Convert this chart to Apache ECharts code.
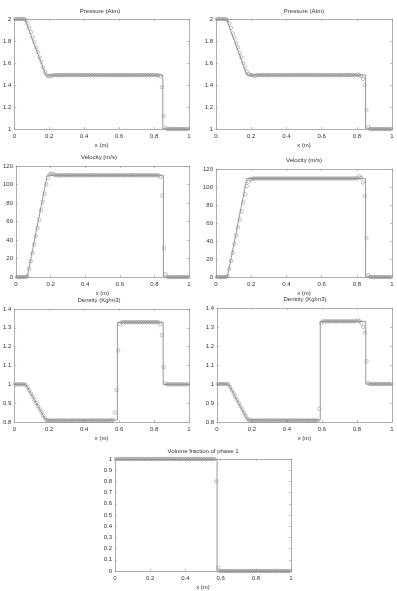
<!DOCTYPE html>
<html><head><meta charset="utf-8">
<script src="https://cdn.jsdelivr.net/npm/echarts@6/dist/echarts.min.js"></script>
<style>html,body{margin:0;padding:0;background:#fff}#c{width:397px;height:591px}</style>
</head><body><div id="c"></div>
<script>
const xCells = [
0.005,0.015,0.025,0.035,0.045,0.055,0.065,0.075,0.085,0.095,
0.105,0.115,0.125,0.135,0.145,0.155,0.165,0.175,0.185,0.195,
0.205,0.215,0.225,0.235,0.245,0.255,0.265,0.275,0.285,0.295,
0.305,0.315,0.325,0.335,0.345,0.355,0.365,0.375,0.385,0.395,
0.405,0.415,0.425,0.435,0.445,0.455,0.465,0.475,0.485,0.495,
0.505,0.515,0.525,0.535,0.545,0.555,0.565,0.575,0.585,0.595,
0.605,0.615,0.625,0.635,0.645,0.655,0.665,0.675,0.685,0.695,
0.705,0.715,0.725,0.735,0.745,0.755,0.765,0.775,0.785,0.795,
0.805,0.815,0.825,0.835,0.845,0.855,0.865,0.875,0.885,0.895,
0.905,0.915,0.925,0.935,0.945,0.955,0.965,0.975,0.985,0.995];
const xTicks = [0, 0.2, 0.4, 0.6, 0.8, 1];

// Pressure (Atm), left panel
const pressureLeft = [
2,2,2,2,2,2,1.99,1.96,1.92,1.88,
1.83,1.79,1.74,1.70,1.65,1.61,1.56,1.52,1.49,1.48,
1.48,1.485,1.49,1.49,1.49,1.49,1.49,1.49,1.49,1.49,
1.49,1.49,1.49,1.49,1.49,1.49,1.49,1.49,1.49,1.49,
1.49,1.49,1.49,1.49,1.49,1.49,1.49,1.49,1.49,1.49,
1.49,1.49,1.49,1.49,1.49,1.49,1.49,1.49,1.49,1.49,
1.49,1.49,1.49,1.49,1.49,1.49,1.49,1.49,1.49,1.49,
1.49,1.49,1.49,1.49,1.49,1.49,1.49,1.49,1.49,1.49,
1.49,1.49,1.49,1.48,1.38,1.12,1.01,1,1,1,
1,1,1,1,1,1,1,1,1,1];
const pressureLeftExactX = [0, 0.06, 0.18, 0.85, 0.85, 1];
const pressureLeftExactY = [2, 2, 1.49, 1.49, 1, 1];

// Pressure (Atm), right panel
const pressureRight = [
2,2,2,2,2,2,1.99,1.96,1.92,1.87,
1.83,1.78,1.74,1.69,1.65,1.60,1.56,1.52,1.50,1.49,
1.49,1.485,1.485,1.49,1.49,1.49,1.49,1.49,1.49,1.49,
1.49,1.49,1.49,1.49,1.49,1.49,1.49,1.49,1.49,1.49,
1.49,1.49,1.49,1.49,1.49,1.49,1.49,1.49,1.49,1.49,
1.49,1.49,1.49,1.49,1.49,1.49,1.49,1.49,1.49,1.49,
1.49,1.49,1.49,1.49,1.49,1.49,1.49,1.49,1.49,1.49,
1.49,1.49,1.49,1.49,1.49,1.49,1.49,1.49,1.49,1.49,
1.495,1.49,1.48,1.455,1.40,1.17,1.02,1,1,1,
1,1,1,1,1,1,1,1,1,1];
const pressureRightExactX = [0, 0.06, 0.175, 0.85, 0.85, 1];
const pressureRightExactY = [2, 2, 1.49, 1.49, 1, 1];

// Velocity (m/s), left panel
const velocityLeft = [
0,0,0,0,0,0,1,9,17,26,
35,44,53,62,72,81,90,100,107,111,
112,111,110.5,110,110,110,110,110,110,110,
110,110,110,110,110,110,110,110,110,110,
110,110,110,110,110,110,110,110,110,110,
110,110,110,110,110,110,110,110,110,110,
110,110,110,110,110,110,110,110,110,110,
110,110,110,110,110,110,110,110,110,110,
110,110,110,108,88,31,3,0,0,0,
0,0,0,0,0,0,0,0,0,0];
const velocityLeftExactX = [0, 0.065, 0.18, 0.852, 0.852, 1];
const velocityLeftExactY = [0, 0, 110, 110, 0, 0];

// Velocity (m/s), right panel
const velocityRight = [
0,0,0,0,0,0,1,9,18,27,
37,46,55,64,73,83,92,101,106,108.5,
109,109.5,109.5,109.5,109.5,109.5,109.5,109.5,109.5,109.5,
109.5,109.5,109.5,109.5,109.5,109.5,109.5,109.5,109.5,109.5,
109.5,109.5,109.5,109.5,109.5,109.5,109.5,109.5,109.5,109.5,
109.5,109.5,109.5,109.5,109.5,109.5,109.5,109.5,109.5,109.5,
109.5,109.5,109.5,109.5,109.5,109.5,109.5,109.5,109.5,109.5,
109.5,109.5,109.5,109.5,109.5,109.5,109.5,109.5,109.5,109.5,
110,112,110,105,90,43,2,0,0,0,
0,0,0,0,0,0,0,0,0,0];
const velocityRightExactX = [0, 0.065, 0.175, 0.85, 0.85, 1];
const velocityRightExactY = [0, 0, 109.5, 109.5, 0, 0];

// Density (Kg/m3), left panel
const densityLeft = [
1,1,1,1,1,1,0.998,0.985,0.968,0.951,
0.935,0.918,0.901,0.885,0.868,0.851,0.835,0.82,0.81,0.807,
0.808,0.808,0.808,0.808,0.808,0.808,0.808,0.808,0.808,0.808,
0.808,0.808,0.808,0.808,0.808,0.808,0.808,0.808,0.808,0.808,
0.808,0.808,0.808,0.808,0.808,0.808,0.808,0.808,0.808,0.808,
0.808,0.808,0.808,0.808,0.808,0.808,0.812,0.85,0.97,1.18,
1.32,1.33,1.33,1.33,1.33,1.33,1.33,1.33,1.33,1.33,
1.33,1.33,1.33,1.33,1.33,1.33,1.33,1.33,1.33,1.33,
1.33,1.33,1.33,1.32,1.26,1.09,1.005,1,1,1,
1,1,1,1,1,1,1,1,1,1];
const densityLeftExactX = [0, 0.065, 0.18, 0.59, 0.59, 0.852, 0.852, 1];
const densityLeftExactY = [1, 1, 0.81, 0.81, 1.33, 1.33, 1, 1];

// Density (Kg/m3), right panel
const densityRight = [
1,1,1,1,1,1,0.998,0.984,0.967,0.950,
0.933,0.916,0.899,0.882,0.865,0.848,0.831,0.816,0.81,0.808,
0.808,0.808,0.808,0.808,0.808,0.808,0.808,0.808,0.808,0.808,
0.808,0.808,0.808,0.808,0.808,0.808,0.808,0.808,0.808,0.808,
0.808,0.808,0.808,0.808,0.808,0.808,0.808,0.808,0.808,0.808,
0.808,0.808,0.808,0.808,0.808,0.808,0.808,0.808,0.87,1.32,
1.33,1.33,1.33,1.33,1.33,1.33,1.33,1.33,1.33,1.33,
1.33,1.33,1.33,1.33,1.33,1.33,1.33,1.33,1.33,1.33,
1.335,1.33,1.32,1.30,1.27,1.12,1.005,1,1,1,
1,1,1,1,1,1,1,1,1,1];
const densityRightExactX = [0, 0.065, 0.175, 0.59, 0.59, 0.85, 0.85, 1];
const densityRightExactY = [1, 1, 0.81, 0.81, 1.33, 1.33, 1, 1];

// Volume fraction of phase 1
const volumeFraction = [
1,1,1,1,1,1,1,1,1,1,
1,1,1,1,1,1,1,1,1,1,
1,1,1,1,1,1,1,1,1,1,
1,1,1,1,1,1,1,1,1,1,
1,1,1,1,1,1,1,1,1,1,
1,1,1,1,1,1,1,0.8,0.03,0,
0,0,0,0,0,0,0,0,0,0,
0,0,0,0,0,0,0,0,0,0,
0,0,0,0,0,0,0,0,0,0,
0,0,0,0,0,0,0,0,0,0];
const volumeExactX = [0, 0.58, 0.58, 1];
const volumeExactY = [1, 1, 0, 0];

const panels = [
  {title:'Pressure (Atm)', cells:pressureLeft, ex:pressureLeftExactX, ey:pressureLeftExactY, ymin:1, ymax:2, yint:0.2,
   grid:{left:13, top:19, width:176, height:110}, tx:100, ty:11},
  {title:'Pressure (Atm)', cells:pressureRight, ex:pressureRightExactX, ey:pressureRightExactY, ymin:1, ymax:2, yint:0.2,
   grid:{left:216, top:19, width:176, height:110}, tx:304, ty:11},
  {title:'Velocity (m/s)', cells:velocityLeft, ex:velocityLeftExactX, ey:velocityLeftExactY, ymin:0, ymax:120, yint:20,
   grid:{left:13, top:166, width:176, height:111}, tx:99, ty:157},
  {title:'Velocity (m/s)', cells:velocityRight, ex:velocityRightExactX, ey:velocityRightExactY, ymin:0, ymax:120, yint:20,
   grid:{left:216, top:169, width:176, height:108}, tx:304, ty:160.5},
  {title:'Density (Kg/m3)', cells:densityLeft, ex:densityLeftExactX, ey:densityLeftExactY, ymin:0.8, ymax:1.4, yint:0.1,
   grid:{left:13, top:309, width:176, height:113}, tx:99, ty:300.5},
  {title:'Density (Kg/m3)', cells:densityRight, ex:densityRightExactX, ey:densityRightExactY, ymin:0.8, ymax:1.4, yint:0.1,
   grid:{left:217, top:308, width:175, height:114}, tx:305, ty:299.5},
  {title:'Volume fraction of phase 1', cells:volumeFraction, ex:volumeExactX, ey:volumeExactY, ymin:0, ymax:1, yint:0.1,
   grid:{left:115, top:459, width:176, height:115}, tx:203, ty:451}
];

const FONT = 'Liberation Sans, Arial, sans-serif';
const TXT = '#333';
const AX = '#999';
const grids = [], xAxes = [], yAxes = [], series = [], graphics = [];
panels.forEach((p, i) => {
  grids.push(Object.assign({containLabel:false}, p.grid));
  const tick = {show:true, inside:true, length:2, lineStyle:{color:AX, width:0.6}};
  xAxes.push({type:'value', gridIndex:i, min:0, max:1, interval:0.2, position:'bottom',
    axisLine:{show:true, onZero:false, lineStyle:{color:AX, width:0.8}}, axisTick:tick, splitLine:{show:false},
    axisLabel:{fontSize:6, color:TXT, margin:4, fontFamily:FONT, formatter:v => xTicks.includes(+v.toFixed(2)) ? String(+v.toFixed(2)) : ''},
    name:'x (m)', nameLocation:'middle', nameGap:13, nameTextStyle:{fontSize:6, color:TXT, fontFamily:FONT}});
  xAxes.push({type:'value', gridIndex:i, min:0, max:1, interval:0.2, position:'top',
    axisLine:{show:true, onZero:false, lineStyle:{color:AX, width:0.8}}, axisTick:tick, axisLabel:{show:false}, splitLine:{show:false}});
  yAxes.push({type:'value', gridIndex:i, min:p.ymin, max:p.ymax, interval:p.yint, position:'left',
    axisLine:{show:true, onZero:false, lineStyle:{color:AX, width:0.8}}, axisTick:tick, splitLine:{show:false},
    axisLabel:{fontSize:6, color:TXT, margin:3, fontFamily:FONT, formatter:v => String(+v.toFixed(2))}});
  yAxes.push({type:'value', gridIndex:i, min:p.ymin, max:p.ymax, interval:p.yint, position:'right',
    axisLine:{show:true, onZero:false, lineStyle:{color:AX, width:0.8}}, axisTick:tick, axisLabel:{show:false}, splitLine:{show:false}});
  series.push({type:'line', xAxisIndex:2*i, yAxisIndex:2*i, data:p.ex.map((x, k) => [x, p.ey[k]]),
    showSymbol:false, symbol:'none', lineStyle:{color:'#999', width:1}, z:2, silent:true});
  series.push({type:'scatter', xAxisIndex:2*i, yAxisIndex:2*i, data:xCells.map((x, k) => [x, p.cells[k]]),
    symbol:'circle', symbolSize:3.4, itemStyle:{color:'rgba(255,255,255,0)', borderColor:'#808080', borderWidth:0.5, opacity:1}, z:3, silent:true});
  graphics.push({type:'text', x:p.tx, y:p.ty, style:{text:p.title, fontSize:6, fill:TXT, fontFamily:FONT, align:'center', verticalAlign:'middle'}});
});

const chart = echarts.init(document.getElementById('c'), null, {renderer:'canvas'});
chart.setOption({animation:false, backgroundColor:'#fff', grid:grids, xAxis:xAxes, yAxis:yAxes, series:series, graphic:graphics});
</script></body></html>
